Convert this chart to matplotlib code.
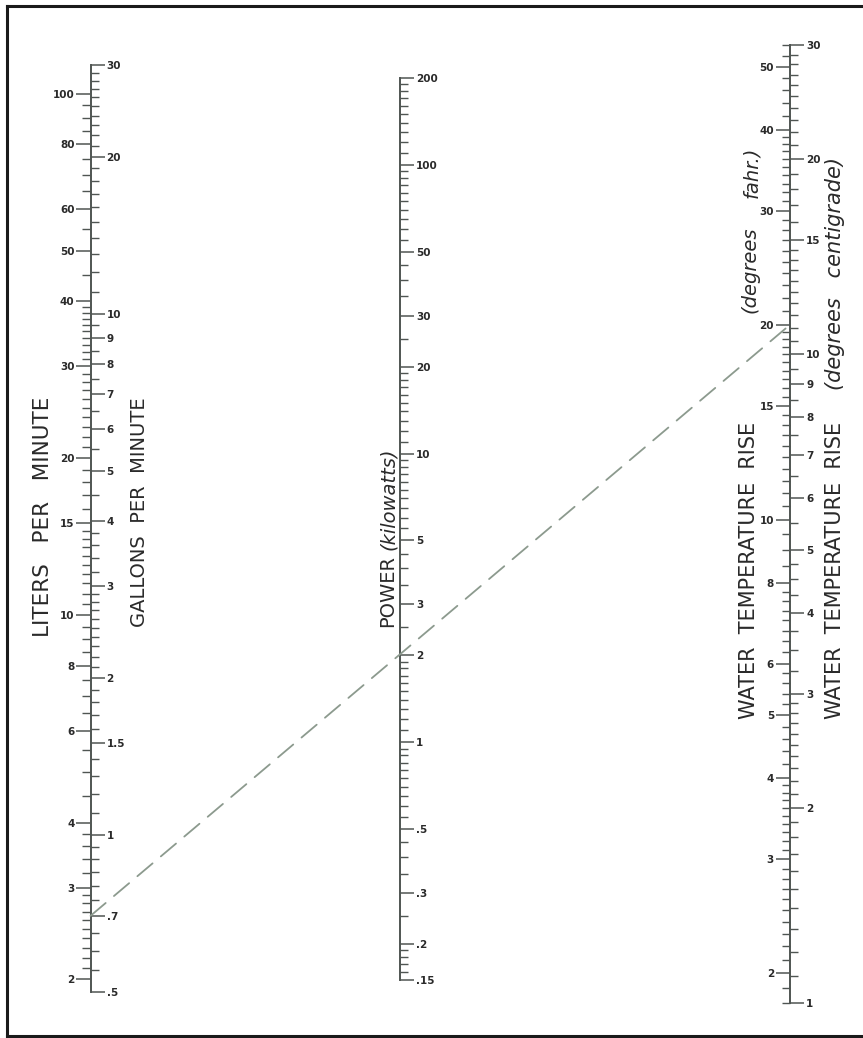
import numpy as np
import matplotlib
matplotlib.use('Agg')
import matplotlib.pyplot as plt
from matplotlib.ticker import NullFormatter
from matplotlib.patches import ConnectionPatch
from matplotlib.lines import Line2D

# === Scale data ===
gpm_major = [0.5, 0.7, 1, 1.5, 2, 3, 4, 5, 6, 7, 8, 9, 10, 20, 30]
gpm_labels = ['.5', '.7', '1', '1.5', '2', '3', '4', '5', '6', '7', '8', '9', '10', '20', '30']
gpm_minor_steps = [(0.5, 1, 0.05), (1, 3, 0.1), (3, 4, 0.2), (4, 10, 0.5), (10, 30, 1)]

lpm_major = [2, 3, 4, 6, 8, 10, 15, 20, 30, 40, 50, 60, 80, 100]
lpm_labels = ['2', '3', '4', '6', '8', '10', '15', '20', '30', '40', '50', '60', '80', '100']
lpm_minor_steps = [(2, 3, 0.1), (3, 4, 0.2), (4, 15, 0.5), (15, 40, 1), (40, 100, 5)]

kw_major = [0.15, 0.2, 0.3, 0.5, 1, 2, 3, 5, 10, 20, 30, 50, 100, 200]
kw_labels = ['.15', '.2', '.3', '.5', '1', '2', '3', '5', '10', '20', '30', '50', '100', '200']
kw_minor_steps = [(0.15, 0.2, 0.01), (0.2, 1, 0.05), (1, 2, 0.1), (2, 10, 0.5),
                  (10, 20, 1), (20, 100, 5), (100, 200, 10)]

degc_major = [1, 2, 3, 4, 5, 6, 7, 8, 9, 10, 15, 20, 30]
degc_labels = ['1', '2', '3', '4', '5', '6', '7', '8', '9', '10', '15', '20', '30']
degc_minor_steps = [(1, 3, 0.1), (3, 5, 0.25), (5, 15, 0.5), (15, 30, 1)]

degf_major = [2, 3, 4, 5, 6, 8, 10, 15, 20, 30, 40, 50]
degf_labels = ['2', '3', '4', '5', '6', '8', '10', '15', '20', '30', '40', '50']
degf_minor_steps = [(1.8, 2, 0.1), (2, 4, 0.1), (4, 6, 0.2), (6, 8, 0.25),
                    (8, 20, 0.5), (20, 40, 1), (40, 54, 2)]

GAL_TO_L = 3.785
C_TO_F = 1.8

# example solution drawn on the chart
example_gpm = 0.7
example_degf = 20

AXIS_COLOR = '#4f5552'
TEXT_COLOR = '#2a2a2a'
W, H = 863, 1038


def steps(segments):
    vals = []
    for a, b, s in segments:
        vals.extend(np.arange(a, b + s / 2, s))
    return sorted(set(np.round(vals, 4)))


def fx(px):
    return px / W


def fy(py):
    return 1 - py / H


def scale_axis(x, top, bottom, lims):
    ax = fig.add_axes([fx(x), fy(bottom), 0.0001, (bottom - top) / H])
    ax.set_xlim(0, 1)
    ax.set_xticks([])
    for s in ['top', 'bottom', 'right']:
        ax.spines[s].set_visible(False)
    ax.spines['left'].set_color(AXIS_COLOR)
    ax.spines['left'].set_linewidth(1.4)
    ax.set_facecolor('none')
    ax.set_yscale('log')
    ax.set_ylim(*lims)
    return ax


def twin_axis(ax, lims):
    ax2 = ax.twinx()
    ax2.set_yscale('log')
    ax2.set_ylim(*lims)
    for s in ax2.spines.values():
        s.set_visible(False)
    return ax2


def set_ticks(ax, major, labels, minor_steps, side):
    ax.set_yticks(major, labels=labels, fontweight='bold')
    ax.set_yticks(steps(minor_steps), minor=True)
    ax.yaxis.set_minor_formatter(NullFormatter())
    if side == 'right':
        ax.yaxis.tick_right()
    else:
        ax.yaxis.tick_left()
    ax.tick_params(axis='y', which='major', direction='out', length=10, width=1.1,
                   color=AXIS_COLOR, labelsize=7.5, pad=1.5, labelcolor=TEXT_COLOR)
    ax.tick_params(axis='y', which='minor', direction='out', length=5.5, width=1.0,
                   color=AXIS_COLOR)


fig = plt.figure(figsize=(W / 100, H / 100), dpi=100)

# === Flow axis (gallons right, liters left) ===
gpm_lims = (0.5, 30)
ax_gpm = scale_axis(90.5, 65, 992, gpm_lims)
ax_lpm = twin_axis(ax_gpm, (gpm_lims[0] * GAL_TO_L, gpm_lims[1] * GAL_TO_L))
set_ticks(ax_gpm, gpm_major, gpm_labels, gpm_minor_steps, 'right')
set_ticks(ax_lpm, lpm_major, lpm_labels, lpm_minor_steps, 'left')

# === Power axis ===
ax_kw = scale_axis(400, 78, 980, (0.15, 200))
set_ticks(ax_kw, kw_major, kw_labels, kw_minor_steps, 'right')

# === Temperature axis (centigrade right, fahrenheit left) ===
degc_lims = (1, 30)
ax_c = scale_axis(790, 45, 1003, degc_lims)
ax_f = twin_axis(ax_c, (degc_lims[0] * C_TO_F, degc_lims[1] * C_TO_F))
set_ticks(ax_c, degc_major, degc_labels, degc_minor_steps, 'right')
set_ticks(ax_f, degf_major, degf_labels, degf_minor_steps, 'left')

# === Example dashed line ===
con = ConnectionPatch(xyA=(0, example_gpm), coordsA=ax_gpm.transData,
                      xyB=(0, example_degf), coordsB=ax_f.transData,
                      color='#8c9a8e', linewidth=1.3, linestyle=(0, (11, 6)))
fig.add_artist(con)

# === Axis titles ===
txt = dict(rotation=90, ha='center', va='center', color=TEXT_COLOR)
fig.text(fx(43), fy(517), 'LITERS   PER   MINUTE', fontsize=15.5, **txt)
fig.text(fx(139), fy(512), 'GALLONS  PER  MINUTE', fontsize=14, **txt)
fig.text(fx(388), fy(591), 'POWER', fontsize=14, **txt)
fig.text(fx(388), fy(499), '(kilowatts)', style='italic', fontsize=14, **txt)
fig.text(fx(749), fy(570), 'WATER  TEMPERATURE  RISE', fontsize=15, **txt)
fig.text(fx(750), fy(270), '(degrees', style='italic', fontsize=14, **txt)
fig.text(fx(752), fy(172), 'fahr.)', style='italic', fontsize=14, **txt)
fig.text(fx(835), fy(570), 'WATER  TEMPERATURE  RISE', fontsize=15, **txt)
fig.text(fx(835), fy(274), '(degrees   centigrade)', style='italic', fontsize=15, **txt)

# === Frame ===
frame = dict(color='#1a1a1a', linewidth=2.2, transform=fig.transFigure)
fig.add_artist(Line2D([fx(7), fx(7)], [fy(6), fy(1036)], **frame))
fig.add_artist(Line2D([fx(7), fx(863)], [fy(6), fy(6)], **frame))
fig.add_artist(Line2D([fx(7), fx(863)], [fy(1036), fy(1036)], **frame))

fig.savefig('out.png', dpi=100)
